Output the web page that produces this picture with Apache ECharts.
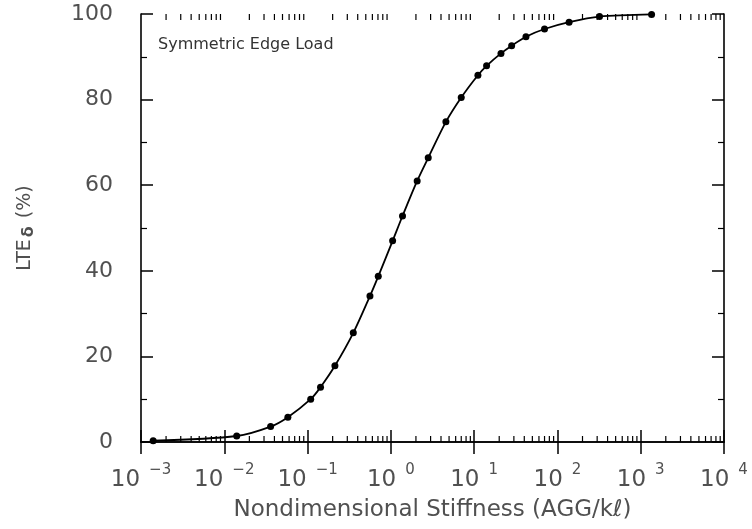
<!DOCTYPE html>
<html>
<head>
<meta charset="utf-8">
<script src="https://cdn.jsdelivr.net/npm/echarts@6/dist/echarts.min.js"></script>
<style>html,body{margin:0;padding:0;background:#fff}#c{width:752px;height:529px}</style>
</head>
<body>
<div id="c"></div>
<script>
// Data
const stiffness = [0.0014, 0.0141, 0.036, 0.058, 0.109, 0.143, 0.213, 0.354, 0.561, 0.706, 1.05, 1.38, 2.07, 2.81, 4.58, 7.0, 11.1, 14.1, 21.0, 28.2, 41.9, 70, 138, 320, 1350];
const lte = [0.3, 1.4, 3.6, 5.8, 10.0, 12.8, 17.8, 25.5, 34.1, 38.7, 47.0, 52.8, 61.0, 66.4, 74.8, 80.5, 85.7, 87.9, 90.8, 92.6, 94.7, 96.5, 98.1, 99.4, 99.9];
// Axis ticks
const decades = [0.001, 0.01, 0.1, 1, 10, 100, 1000];
const minorMultiples = [2, 3, 4, 5, 6, 7, 8, 9];
const yTicks = [0, 20, 40, 60, 80, 100];

const minorX = [];
decades.forEach(d => minorMultiples.forEach(m => minorX.push([d * m, 0])));

const FONT = 'DejaVu Sans';
const LABEL = '#505050';

function expLabel(v) {
  const e = Math.round(Math.log10(v));
  const s = e < 0 ? '\u2212' + (-e) : String(e);
  return '{b|10}{s|' + s + '}';
}

const chart = echarts.init(document.getElementById('c'), null, {renderer: 'canvas'});
chart.setOption({
  animation: false,
  backgroundColor: '#fff',
  grid: {left: 141, right: 28, top: 14, bottom: 87, containLabel: false},
  xAxis: [{
    type: 'log', logBase: 10, min: 0.001, max: 10000, splitNumber: 7,
    position: 'bottom',
    axisLine: {show: true, lineStyle: {color: '#000', width: 1.6}},
    axisTick: {show: true, inside: true, length: 12, lineStyle: {color: '#000', width: 1.5}},
    splitLine: {show: false},
    axisLabel: {
      margin: 26, formatter: expLabel, color: LABEL,
      rich: {
        b: {fontFamily: FONT, fontSize: 23, lineHeight: 24, color: LABEL, verticalAlign: 'bottom'},
        s: {fontFamily: FONT, fontSize: 15, lineHeight: 15, color: LABEL, verticalAlign: 'bottom', padding: [0, 0, 14, 9]}
      }
    },
    name: 'Nondimensional Stiffness (AGG/k\u2113)',
    nameLocation: 'middle', nameGap: 57,
    nameTextStyle: {fontFamily: FONT, fontSize: 23, color: LABEL}
  }, {
    type: 'log', logBase: 10, min: 0.001, max: 10000, splitNumber: 7,
    position: 'top',
    axisLine: {show: true, lineStyle: {color: '#000', width: 1.6}},
    axisTick: {show: true, inside: true, length: 12, lineStyle: {color: '#000', width: 1.5}},
    axisLabel: {show: false},
    splitLine: {show: false}
  }],
  yAxis: [{
    type: 'value', min: 0, max: 100, interval: 20,
    position: 'left',
    axisLine: {show: true, lineStyle: {color: '#000', width: 1.6}},
    axisTick: {show: true, inside: true, length: 12, lineStyle: {color: '#000', width: 1.5}},
    minorTick: {show: true, splitNumber: 2, length: 6, lineStyle: {color: '#000', width: 1.2}},
    splitLine: {show: false},
    axisLabel: {margin: 28, color: LABEL, fontFamily: FONT, fontSize: 22,
      formatter: v => yTicks.indexOf(v) >= 0 ? String(v) : ''},
    name: 'LTE{sub|\u03b4} (%)',
    nameLocation: 'middle', nameGap: 104, nameRotate: 90,
    nameTextStyle: {fontFamily: FONT, fontSize: 19, color: LABEL,
      rich: {sub: {fontFamily: FONT, fontSize: 16, fontWeight: 'bold', color: LABEL, verticalAlign: 'bottom', padding: [8, 2, 0, 2]}}}
  }, {
    type: 'value', min: 0, max: 100, interval: 20,
    position: 'right',
    axisLine: {show: true, lineStyle: {color: '#000', width: 1.6}},
    axisTick: {show: true, inside: true, length: 12, lineStyle: {color: '#000', width: 1.5}},
    minorTick: {show: true, splitNumber: 2, length: 6, lineStyle: {color: '#000', width: 1.2}},
    axisLabel: {show: false},
    splitLine: {show: false}
  }],
  graphic: [{
    type: 'text', left: 158, top: 37, silent: true,
    style: {text: 'Symmetric Edge Load', fontFamily: FONT, fontSize: 16, fill: '#333'}
  }],
  series: [{
    type: 'custom',
    xAxisIndex: 0, yAxisIndex: 0,
    silent: true, clip: false,
    data: minorX,
    encode: {x: 0, y: 1},
    renderItem: function (params, api) {
      const v = api.value(0);
      const b = api.coord([v, 0]);
      const t = api.coord([v, 100]);
      return {type: 'group', children: [
        {type: 'line', shape: {x1: b[0], y1: b[1], x2: b[0], y2: b[1] - 6}, style: {stroke: '#000', lineWidth: 1.2}},
        {type: 'line', shape: {x1: t[0], y1: t[1], x2: t[0], y2: t[1] + 6}, style: {stroke: '#000', lineWidth: 1.2}}
      ]};
    }
  }, {
    type: 'line',
    xAxisIndex: 0, yAxisIndex: 0,
    data: stiffness.map((x, i) => [x, lte[i]]),
    smooth: 0.3,
    symbol: 'circle', symbolSize: 7,
    itemStyle: {color: '#000'},
    lineStyle: {color: '#000', width: 1.8},
    clip: false
  }]
});
</script>
</body>
</html>
